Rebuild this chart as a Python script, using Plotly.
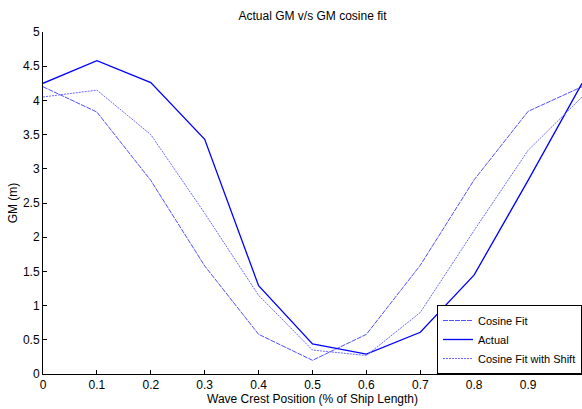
import plotly.graph_objects as go

x_pos = [0, 0.1, 0.2, 0.3, 0.4, 0.5, 0.6, 0.7, 0.8, 0.9, 1.0]
cosine_fit = [4.20, 3.83, 2.83, 1.58, 0.58, 0.20, 0.58, 1.59, 2.84, 3.84, 4.20]
actual = [4.25, 4.58, 4.26, 3.43, 1.29, 0.44, 0.29, 0.61, 1.45, 2.83, 4.25]
cosine_shift = [4.05, 4.15, 3.50, 2.35, 1.15, 0.35, 0.27, 0.90, 2.10, 3.27, 4.05]

x_ticks = [0, 0.1, 0.2, 0.3, 0.4, 0.5, 0.6, 0.7, 0.8, 0.9, 1]
y_ticks = [0, 0.5, 1, 1.5, 2, 2.5, 3, 3.5, 4, 4.5, 5]

W, H = 582, 409
ml, mr, mt, mb = 43, 0, 32, 35

fig = go.Figure()
fig.add_trace(go.Scatter(x=x_pos, y=cosine_fit, mode="lines", name="Cosine Fit",
                         line=dict(color="#5050ff", width=1, dash="5px,1px")))
fig.add_trace(go.Scatter(x=x_pos, y=actual, mode="lines", name="Actual",
                         line=dict(color="#0000ff", width=1.3)))
fig.add_trace(go.Scatter(x=x_pos, y=cosine_shift, mode="lines", name="Cosine Fit with Shift",
                         line=dict(color="#6a6aff", width=1, dash="2px,1px")))

font_family = "Liberation Sans, Arial, sans-serif"

fig.update_layout(
    width=W, height=H,
    margin=dict(l=ml, r=mr, t=mt, b=mb, pad=0),
    paper_bgcolor="white", plot_bgcolor="white",
    font=dict(family=font_family, size=12, color="black"),
    title=dict(text="Actual GM v/s GM cosine fit", x=(ml + (W - mr - ml) / 2) / W, xanchor="center",
               y=1 - 16 / H, yanchor="middle", font=dict(size=12, color="black")),
    showlegend=True,
    legend=dict(x=1, xanchor="right", y=0, yanchor="bottom",
                bgcolor="white", bordercolor="black", borderwidth=1,
                font=dict(size=11, color="black"), tracegroupgap=0,
                itemwidth=30),
    xaxis=dict(range=[0, 1], tickvals=x_ticks, ticktext=[str(v) for v in x_ticks],
               showgrid=False, zeroline=False, showline=True, linecolor="black", linewidth=1,
               ticks="inside", ticklen=4, tickcolor="black", automargin=False,
               tickfont=dict(size=12),
               title=dict(text="Wave Crest Position (% of Ship Length)", font=dict(size=12), standoff=2)),
    yaxis=dict(range=[0, 5], tickvals=y_ticks, ticktext=[f"{v:g}" for v in y_ticks],
               showgrid=False, zeroline=False, showline=True, linecolor="black", linewidth=1,
               ticks="inside", ticklen=4, tickcolor="black", automargin=False,
               tickfont=dict(size=12),
               title=dict(text="GM (m)", font=dict(size=12), standoff=2)),
)

fig.write_html("out.html")
